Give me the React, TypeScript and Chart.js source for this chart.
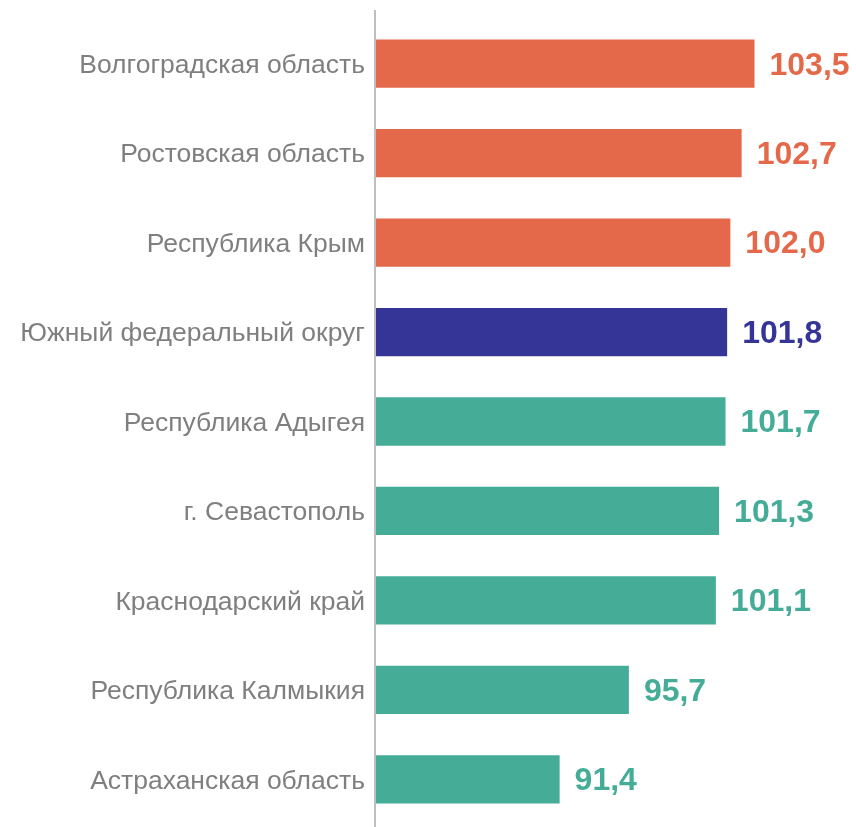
import React, { useEffect, useRef } from "react";
import { Chart, registerables } from "chart.js";

Chart.register(...registerables);

const categories = [
  "Волгоградская область",
  "Ростовская область",
  "Республика Крым",
  "Южный федеральный округ",
  "Республика Адыгея",
  "г. Севастополь",
  "Краснодарский край",
  "Республика Калмыкия",
  "Астраханская область",
];

const values = [103.5, 102.7, 102.0, 101.8, 101.7, 101.3, 101.1, 95.7, 91.4];

const ORANGE = "#E4694A";
const NAVY = "#353598";
const TEAL = "#45AC98";

const barColors = [ORANGE, ORANGE, ORANGE, NAVY, TEAL, TEAL, TEAL, TEAL, TEAL];

const X_MIN = 80;
const X_MAX = 109.8;

const fmt = (v: number) => v.toFixed(1).replace(".", ",");

const overlayPlugin = {
  id: "overlay",
  afterDatasetsDraw(chart: any) {
    const ctx = chart.ctx;
    const area = chart.chartArea;
    ctx.save();
    ctx.strokeStyle = "#BFBFBF";
    ctx.lineWidth = 2;
    ctx.beginPath();
    ctx.moveTo(area.left - 1, 10);
    ctx.lineTo(area.left - 1, chart.height);
    ctx.stroke();
    const meta = chart.getDatasetMeta(0);
    ctx.font = "bold 32px 'Liberation Sans', Arial, sans-serif";
    ctx.textAlign = "left";
    ctx.textBaseline = "middle";
    meta.data.forEach((bar: any, i: number) => {
      ctx.fillStyle = barColors[i];
      ctx.fillText(fmt(values[i]), bar.x + 15, bar.y + 2);
    });
    ctx.restore();
  },
};

export default function App() {
  const ref = useRef<HTMLCanvasElement | null>(null);
  useEffect(() => {
    if (!ref.current) return;
    const chart = new Chart(ref.current, {
      type: "bar",
      data: {
        labels: categories,
        datasets: [
          {
            data: values,
            backgroundColor: barColors,
            borderWidth: 0,
            categoryPercentage: 1,
            barPercentage: 0.54,
          },
        ],
      },
      options: {
        indexAxis: "y",
        animation: false,
        responsive: false,
        maintainAspectRatio: false,
        layout: { padding: { top: 19, bottom: 3, left: 0, right: 0 } },
        plugins: {
          legend: { display: false },
          tooltip: { enabled: false },
        },
        scales: {
          x: {
            display: false,
            min: X_MIN,
            max: X_MAX,
          },
          y: {
            afterFit: (scale: any) => {
              scale.width = 376;
              scale.paddingTop = 0;
              scale.paddingBottom = 0;
            },
            grid: { display: false, drawTicks: false },
            border: { display: false },
            ticks: {
              color: "#7F7F7F",
              padding: 11,
              labelOffset: 2,
              font: { size: 26.5, family: "'Liberation Sans', Arial, sans-serif" },
            },
          },
        },
      },
      plugins: [overlayPlugin],
    });
    return () => chart.destroy();
  }, []);
  return (
    <div style={{ position: "fixed", left: 0, top: 0, width: 856, height: 827, background: "#fff" }}>
      <canvas ref={ref} width={856} height={827} />
    </div>
  );
}
